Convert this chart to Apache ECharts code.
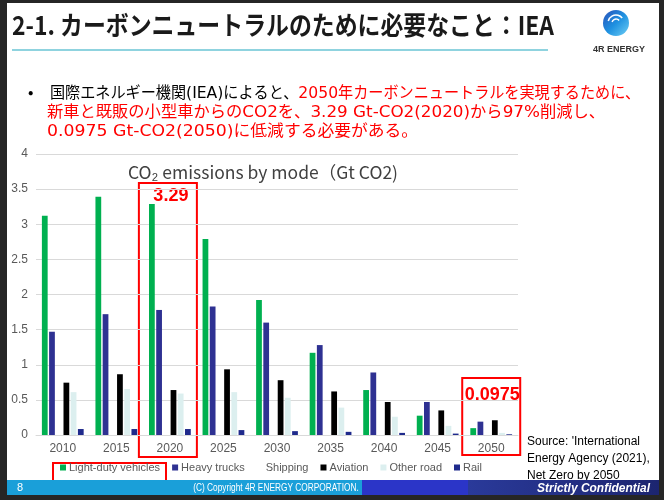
<!DOCTYPE html>
<html><head><meta charset="utf-8">
<script src="https://cdn.jsdelivr.net/npm/echarts@6/dist/echarts.min.js"></script>
<style>html,body{margin:0;padding:0;background:#262626;}#c{width:664px;height:500px;}</style>
</head><body><div id="c"></div>
<script>
const years = ['2010','2015','2020','2025','2030','2035','2040','2045','2050'];
const yTicks = [0,0.5,1,1.5,2,2.5,3,3.5,4];
const lightDuty = [3.12,3.39,3.29,2.79,1.92,1.17,0.64,0.275,0.0975];
const heavyTrucks = [1.47,1.72,1.78,1.83,1.60,1.28,0.89,0.47,0.19];
const shipping = [null,null,null,null,null,null,null,null,null];
const aviation = [0.745,0.865,0.64,0.935,0.78,0.62,0.47,0.35,0.21];
const otherRoad = [0.61,0.655,0.59,0.61,0.53,0.39,0.26,0.13,0.03];
const rail = [0.085,0.085,0.085,0.07,0.055,0.045,0.03,0.02,0.01];
const seriesNames = ['Light-duty vehicles','Heavy trucks','Shipping','Aviation','Other road','Rail'];
const seriesColors = ['#00b050','#2e3192','#ffffff','#000000','#dcefef','#1f2a8c'];
const seriesData = [lightDuty,heavyTrucks,shipping,aviation,otherRoad,rail];

const chart = echarts.init(document.getElementById('c'), null, {renderer:'canvas'});
const jp = '"Noto Sans CJK JP", sans-serif';
const lib = '"Liberation Sans", Arial, sans-serif';
const opt = {
  animation:false,
  backgroundColor:'#262626',
  grid:{left:36,right:146,top:154,bottom:65,containLabel:false},
  xAxis:{type:'category',data:years,
    axisLine:{show:true,lineStyle:{color:'#d9d9d9'}},axisTick:{show:false},
    axisLabel:{color:'#595959',fontSize:12,fontFamily:lib,margin:8}},
  yAxis:{type:'value',min:yTicks[0],max:yTicks[yTicks.length-1],interval:yTicks[1]-yTicks[0],
    axisLine:{show:false},axisTick:{show:false},
    splitLine:{lineStyle:{color:'#d9d9d9'}},
    axisLabel:{color:'#595959',fontSize:12,fontFamily:lib,margin:8}},
  legend:{left:60,top:462,itemWidth:6,itemHeight:6,itemGap:12,icon:'rect',padding:0,
    textStyle:{color:'#595959',fontSize:11,fontFamily:lib,padding:[0,0,0,-2]},
    data:seriesNames},
  series:seriesNames.map((n,i)=>({name:n,type:'bar',data:seriesData[i],
    itemStyle:{color:seriesColors[i]},barGap:'25%',barCategoryGap:'22%'})),
  graphic:[]
};
chart.setOption(opt);

const mctx = document.createElement('canvas').getContext('2d');
function mw(t, font){mctx.font = font; return mctx.measureText(t).width;}
function baseOff(font){mctx.font = font; mctx.textBaseline='middle'; const d = mctx.measureText('H').actualBoundingBoxDescent; mctx.textBaseline='alphabetic'; return d;}
const CJK = '16px "Noto Sans CJK JP"';
const LAT = '16.5px "DejaVu Sans"';
const bC = baseOff(CJK), bL = baseOff(LAT);
function line(runs, x0, x1, yc){
  let x = 0; const kids = [];
  runs.forEach(r=>{
    const f = r[2] ? LAT : CJK;
    const dy = r[2] ? (bC - bL) : 0;
    kids.push({type:'text',x:x,y:dy,style:{text:r[1],fill:r[0],font:f,verticalAlign:'middle'}});
    x += mw(r[1], f);
  });
  return {type:'group',x:x0,y:yc,scaleX:(x1-x0)/x,children:kids};
}
const K='#000000', R='#ff0000';

function cx(y){return chart.convertToPixel({xAxisIndex:0}, y);}
const c2020 = cx('2020'), c2050 = cx('2050');
const g = [
  {type:'rect',z:-10,shape:{x:7,y:3,width:652,height:492},style:{fill:'#ffffff'}},
  {type:'text',x:12,y:25,scaleX:0.88,style:{text:'2-1. カーボンニュートラルのために必要なこと：IEA',fill:'#1a1a1a',font:'bold 26px '+jp,verticalAlign:'middle'}},
  {type:'rect',shape:{x:12,y:49,width:536,height:2},style:{fill:'#8fd3df'}},
  {type:'circle',shape:{cx:616,cy:23,r:13},style:{fill:new echarts.graphic.LinearGradient(0,0,1,1,[{offset:0,color:'#2a4fb8'},{offset:0.5,color:'#1e90e0'},{offset:1,color:'#6fd0f5'}])}},
  {type:'arc',shape:{cx:616,cy:23,r:8,startAngle:3.4,endAngle:5.6},style:{stroke:'#ffffff',lineWidth:1.5,fill:'none'}},
  {type:'arc',shape:{cx:616,cy:23,r:4,startAngle:3.4,endAngle:5.6},style:{stroke:'#ffffff',lineWidth:1.5,fill:'none'}},
  {type:'text',x:619,y:50,style:{text:'4R ENERGY',fill:'#333',font:'bold 9px '+lib,align:'center',verticalAlign:'middle'}},
  {type:'text',x:28,y:92,style:{text:'•',fill:'#000',font:'16px '+jp,verticalAlign:'middle'}},
  line([[K,'国際エネルギー機関'],[K,'(IEA)',1],[K,'によると、'],[R,'2050',1],[R,'年カーボンニュートラルを実現するために、']],50,640,92),
  line([[R,'新車と既販の小型車からの'],[R,'CO2',1],[R,'を、'],[R,'3.29 Gt-CO2(2020)',1],[R,'から'],[R,'97%',1],[R,'削減し、']],47,605,111),
  line([[R,'0.0975 Gt-CO2(2050)',1],[R,'に低減する必要がある。']],47,418,130),
  {type:'text',x:263,y:172,style:{text:'CO₂ emissions by mode（Gt CO2)',fill:'#404040',font:'17.5px '+jp,align:'center',verticalAlign:'middle'}},
  {type:'rect',shape:{x:c2020-31,y:183,width:58,height:274},style:{fill:'none',stroke:'#ff0000',lineWidth:2}},
  {type:'text',x:c2020+1,y:196,style:{text:'3.29',fill:'#ff0000',font:'bold 18px '+lib,align:'center',verticalAlign:'middle'}},
  {type:'rect',shape:{x:c2050-29,y:378,width:58,height:77},style:{fill:'none',stroke:'#ff0000',lineWidth:2}},
  {type:'text',x:c2050+1,y:395,style:{text:'0.0975',fill:'#ff0000',font:'bold 18px '+lib,align:'center',verticalAlign:'middle'}},
  {type:'rect',shape:{x:53,y:463,width:113,height:20},style:{fill:'none',stroke:'#ff0000',lineWidth:2}},
  {type:'text',x:527,y:433,style:{text:"Source: 'International\nEnergy Agency (2021),\nNet Zero by 2050",fill:'#000',font:'12px '+lib,lineHeight:17}},
  {type:'rect',shape:{x:7,y:480,width:355,height:15},style:{fill:'#1a9fd9'}},
  {type:'rect',shape:{x:362,y:480,width:106,height:15},style:{fill:'#2b35c8'}},
  {type:'rect',shape:{x:468,y:480,width:191,height:15},style:{fill:new echarts.graphic.LinearGradient(0,0,1,0,[{offset:0,color:'#2a3a9a'},{offset:1,color:'#1c2570'}])}},
  {type:'text',x:20,y:488,style:{text:'8',fill:'#fff',font:'11px '+lib,align:'center',verticalAlign:'middle'}},
  {type:'text',x:276,y:488,scaleX:0.83,style:{text:'(C) Copyright 4R ENERGY CORPORATION.',fill:'#fff',font:'10px '+lib,align:'center',verticalAlign:'middle'}},
  {type:'text',x:650,y:488,scaleX:0.92,style:{text:'Strictly Confidential',fill:'#fff',font:'italic bold 13px '+lib,align:'right',verticalAlign:'middle'}}
];
chart.setOption({graphic:g});
</script></body></html>
